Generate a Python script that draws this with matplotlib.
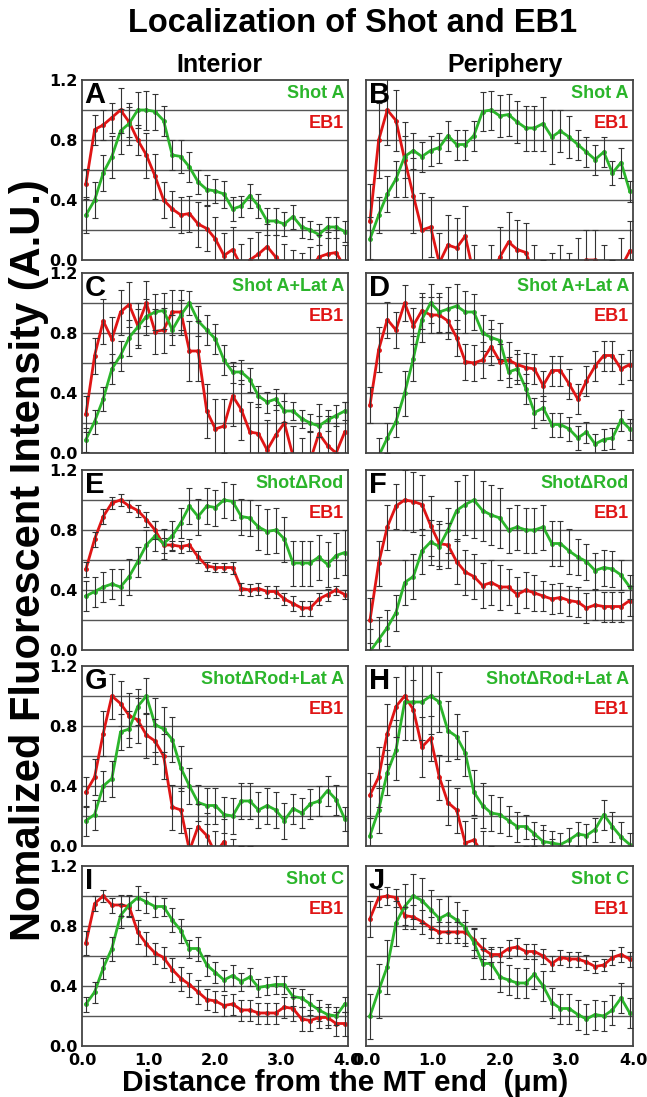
import numpy as np
from matplotlib import pyplot as plt

# distance from MT end (um), 31 samples
dist = np.round(0.06 + 0.1297 * np.arange(31), 3)

letters = ['A', 'B', 'C', 'D', 'E', 'F', 'G', 'H', 'I', 'J']
shot_names = ['Shot A', 'Shot A', 'Shot A+Lat A', 'Shot A+Lat A', 'Shot\u0394Rod', 'Shot\u0394Rod',
              'Shot\u0394Rod+Lat A', 'Shot\u0394Rod+Lat A', 'Shot C', 'Shot C']

shot_A = [0.30, 0.40, 0.58, 0.69, 0.86, 0.91, 1.00, 1.00, 0.99, 0.93, 0.70, 0.69, 0.62, 0.52, 0.47, 0.46,
          0.44, 0.34, 0.36, 0.43, 0.36, 0.26, 0.26, 0.24, 0.29, 0.22, 0.20, 0.17, 0.22, 0.22, 0.19]
shot_A_err = [0.12, 0.12, 0.12, 0.14, 0.15, 0.14, 0.12, 0.13, 0.12, 0.10, 0.10, 0.11, 0.10, 0.08, 0.10, 0.08,
              0.09, 0.08, 0.07, 0.08, 0.08, 0.09, 0.09, 0.08, 0.08, 0.07, 0.06, 0.07, 0.07, 0.07, 0.07]
eb1_A = [0.51, 0.87, 0.90, 0.95, 1.00, 0.92, 0.80, 0.70, 0.56, 0.40, 0.34, 0.30, 0.31, 0.24, 0.21, 0.14,
         0.03, 0.07, -0.04, 0.00, 0.04, 0.09, 0.02, -0.04, -0.08, -0.10, -0.06, 0.02, 0.04, 0.05, -0.05]
eb1_A_err = [0.10, 0.10, 0.10, 0.10, 0.15, 0.10, 0.10, 0.15, 0.15, 0.12, 0.12, 0.12, 0.12, 0.15, 0.15, 0.15,
             0.15, 0.15, 0.15, 0.15, 0.15, 0.15, 0.15, 0.15, 0.15, 0.15, 0.15, 0.15, 0.15, 0.15, 0.15]

shot_B = [0.14, 0.30, 0.44, 0.54, 0.69, 0.73, 0.69, 0.73, 0.75, 0.83, 0.77, 0.77, 0.83, 0.99, 1.00, 0.96,
          0.97, 0.92, 0.88, 0.88, 0.91, 0.82, 0.86, 0.82, 0.77, 0.72, 0.67, 0.72, 0.58, 0.65, 0.46]
shot_B_err = [0.15, 0.12, 0.12, 0.12, 0.14, 0.12, 0.10, 0.10, 0.10, 0.10, 0.10, 0.10, 0.10, 0.13, 0.13, 0.14,
              0.14, 0.14, 0.15, 0.15, 0.18, 0.18, 0.14, 0.14, 0.10, 0.10, 0.10, 0.10, 0.08, 0.10, 0.07]
eb1_B = [0.26, 0.80, 1.00, 0.93, 0.67, 0.43, 0.20, 0.22, -0.02, 0.10, 0.08, 0.16, -0.10, -0.25, -0.10, 0.02,
         0.12, 0.07, 0.05, -0.10, -0.20, -0.15, -0.10, -0.15, -0.05, 0.00, 0.00, -0.10, -0.20, -0.05, 0.06]
eb1_B_err = [0.25, 0.25, 0.23, 0.20, 0.25, 0.25, 0.25, 0.20, 0.20, 0.20, 0.20, 0.20, 0.20, 0.20, 0.20, 0.20,
             0.20, 0.20, 0.20, 0.20, 0.20, 0.20, 0.20, 0.20, 0.20, 0.20, 0.20, 0.20, 0.20, 0.20, 0.20]

shot_C_lat = [0.09, 0.21, 0.36, 0.56, 0.65, 0.77, 0.84, 0.91, 0.94, 0.95, 0.82, 0.92, 1.00, 0.88, 0.82, 0.76,
              0.62, 0.54, 0.54, 0.49, 0.38, 0.34, 0.36, 0.28, 0.28, 0.23, 0.20, 0.18, 0.22, 0.25, 0.28]
shot_C_lat_err = [0.08, 0.08, 0.08, 0.10, 0.10, 0.12, 0.12, 0.12, 0.12, 0.12, 0.10, 0.10, 0.08, 0.10, 0.10, 0.10,
                  0.10, 0.07, 0.08, 0.08, 0.07, 0.07, 0.07, 0.07, 0.06, 0.06, 0.06, 0.07, 0.07, 0.07, 0.06]
eb1_C = [0.26, 0.65, 0.88, 0.76, 0.94, 0.99, 0.85, 1.00, 0.81, 0.82, 0.94, 0.94, 0.68, 0.68, 0.28, 0.16,
         0.18, 0.38, 0.29, 0.14, 0.13, 0.02, 0.12, 0.20, -0.02, -0.10, -0.05, 0.13, 0.05, 0.00, 0.14]
eb1_C_err = [0.12, 0.12, 0.15, 0.15, 0.15, 0.15, 0.15, 0.15, 0.15, 0.15, 0.15, 0.15, 0.20, 0.20, 0.18, 0.20,
             0.18, 0.20, 0.20, 0.20, 0.20, 0.20, 0.20, 0.20, 0.20, 0.20, 0.20, 0.20, 0.20, 0.20, 0.20]

shot_D_lat = [-0.20, -0.02, 0.10, 0.21, 0.40, 0.63, 0.89, 1.00, 0.94, 0.96, 0.98, 0.94, 0.94, 0.80, 0.77, 0.75,
              0.54, 0.56, 0.43, 0.27, 0.30, 0.19, 0.19, 0.16, 0.10, 0.14, 0.06, 0.09, 0.10, 0.22, 0.16]
shot_D_lat_err = [0.15, 0.12, 0.10, 0.10, 0.15, 0.15, 0.15, 0.13, 0.13, 0.15, 0.15, 0.14, 0.12, 0.12, 0.12, 0.12,
                  0.10, 0.10, 0.10, 0.10, 0.08, 0.08, 0.08, 0.08, 0.08, 0.07, 0.07, 0.07, 0.07, 0.07, 0.07]
eb1_D = [0.32, 0.69, 0.89, 0.82, 1.00, 0.85, 0.95, 0.92, 0.92, 0.88, 0.77, 0.61, 0.60, 0.62, 0.71, 0.61,
         0.62, 0.59, 0.57, 0.56, 0.45, 0.55, 0.55, 0.46, 0.36, 0.48, 0.58, 0.65, 0.65, 0.56, 0.59]
eb1_D_err = [0.12, 0.15, 0.12, 0.12, 0.12, 0.12, 0.12, 0.12, 0.12, 0.12, 0.12, 0.12, 0.12, 0.12, 0.12, 0.12,
             0.12, 0.10, 0.10, 0.10, 0.10, 0.10, 0.10, 0.10, 0.10, 0.10, 0.10, 0.10, 0.10, 0.10, 0.10]

shot_E = [0.36, 0.39, 0.42, 0.44, 0.42, 0.49, 0.59, 0.70, 0.76, 0.71, 0.76, 0.85, 0.96, 0.89, 0.96, 0.95,
          1.00, 0.99, 0.89, 0.88, 0.82, 0.79, 0.80, 0.74, 0.58, 0.58, 0.58, 0.62, 0.57, 0.63, 0.65]
shot_E_err = [0.10, 0.10, 0.10, 0.10, 0.12, 0.12, 0.10, 0.10, 0.10, 0.10, 0.10, 0.10, 0.12, 0.12, 0.12, 0.12,
              0.12, 0.12, 0.12, 0.12, 0.15, 0.15, 0.15, 0.15, 0.15, 0.15, 0.15, 0.15, 0.15, 0.15, 0.15]
eb1_E = [0.54, 0.74, 0.89, 0.98, 1.00, 0.96, 0.93, 0.87, 0.80, 0.70, 0.70, 0.69, 0.70, 0.62, 0.56, 0.55,
         0.55, 0.55, 0.41, 0.40, 0.41, 0.39, 0.39, 0.34, 0.31, 0.28, 0.28, 0.34, 0.37, 0.40, 0.37]
eb1_E_err = [0.05, 0.05, 0.05, 0.04, 0.04, 0.04, 0.04, 0.05, 0.06, 0.05, 0.03, 0.04, 0.04, 0.04, 0.03, 0.03,
             0.03, 0.04, 0.04, 0.04, 0.04, 0.04, 0.04, 0.04, 0.05, 0.05, 0.05, 0.04, 0.04, 0.03, 0.03]

shot_F = [-0.01, 0.07, 0.15, 0.25, 0.45, 0.49, 0.66, 0.72, 0.69, 0.80, 0.93, 0.97, 1.00, 0.93, 0.90, 0.88,
          0.80, 0.82, 0.80, 0.80, 0.82, 0.71, 0.71, 0.66, 0.62, 0.59, 0.53, 0.55, 0.54, 0.50, 0.42]
shot_F_err = [0.15, 0.15, 0.12, 0.12, 0.15, 0.15, 0.15, 0.15, 0.15, 0.15, 0.20, 0.20, 0.25, 0.20, 0.20, 0.20,
              0.15, 0.15, 0.15, 0.15, 0.15, 0.15, 0.15, 0.15, 0.12, 0.12, 0.12, 0.12, 0.12, 0.10, 0.08]
eb1_F = [0.20, 0.58, 0.82, 0.96, 1.00, 0.99, 0.97, 0.83, 0.71, 0.70, 0.59, 0.52, 0.49, 0.43, 0.45, 0.42,
         0.42, 0.37, 0.40, 0.38, 0.36, 0.34, 0.35, 0.33, 0.32, 0.28, 0.30, 0.29, 0.29, 0.29, 0.33]
eb1_F_err = [0.15, 0.15, 0.15, 0.15, 0.20, 0.20, 0.20, 0.20, 0.15, 0.15, 0.15, 0.15, 0.15, 0.15, 0.15, 0.15,
             0.12, 0.12, 0.12, 0.12, 0.10, 0.10, 0.10, 0.10, 0.10, 0.10, 0.10, 0.10, 0.10, 0.10, 0.10]

shot_G_lat = [0.17, 0.21, 0.40, 0.45, 0.76, 0.78, 0.93, 1.00, 0.81, 0.78, 0.71, 0.52, 0.40, 0.29, 0.27, 0.27,
              0.21, 0.20, 0.30, 0.30, 0.24, 0.27, 0.24, 0.17, 0.25, 0.22, 0.28, 0.30, 0.37, 0.31, 0.18]
shot_G_lat_err = [0.10, 0.10, 0.10, 0.12, 0.12, 0.12, 0.12, 0.12, 0.18, 0.15, 0.15, 0.15, 0.12, 0.12, 0.12, 0.12,
                  0.12, 0.12, 0.12, 0.12, 0.12, 0.12, 0.12, 0.12, 0.10, 0.10, 0.10, 0.10, 0.10, 0.10, 0.08]
eb1_G = [0.36, 0.46, 0.75, 1.00, 0.95, 0.87, 0.84, 0.74, 0.70, 0.60, 0.26, 0.24, -0.03, 0.13, 0.07, -0.05,
         0.03, -0.10, -0.15, -0.15, -0.20, -0.20, -0.20, -0.25, -0.25, -0.25, -0.25, -0.25, -0.25, -0.25, -0.25]
eb1_G_err = [0.10, 0.12, 0.15, 0.15, 0.15, 0.15, 0.15, 0.15, 0.15, 0.15, 0.15, 0.15, 0.15, 0.15, 0.15, 0.15,
             0.15, 0.15, 0.15, 0.15, 0.15, 0.15, 0.15, 0.15, 0.15, 0.15, 0.15, 0.15, 0.15, 0.15, 0.15]

shot_H_lat = [0.07, 0.24, 0.49, 0.64, 0.96, 0.96, 0.96, 1.00, 0.96, 0.77, 0.73, 0.62, 0.36, 0.27, 0.22, 0.21,
              0.17, 0.13, 0.13, 0.08, 0.03, 0.02, 0.01, 0.04, 0.08, 0.07, 0.11, 0.21, 0.13, 0.06, 0.01]
shot_H_lat_err = [0.12, 0.15, 0.15, 0.20, 0.25, 0.25, 0.25, 0.25, 0.20, 0.20, 0.15, 0.15, 0.15, 0.15, 0.12, 0.12,
                  0.10, 0.10, 0.08, 0.08, 0.08, 0.08, 0.08, 0.08, 0.08, 0.08, 0.08, 0.10, 0.10, 0.10, 0.08]
eb1_H = [0.34, 0.46, 0.75, 0.93, 1.00, 0.91, 0.66, 0.72, 0.46, 0.29, 0.24, 0.02, 0.04, -0.05, -0.15, -0.20,
         -0.20, -0.20, -0.15, -0.10, -0.01, -0.10, -0.20, -0.20, -0.20, -0.20, -0.20, -0.20, -0.20, -0.20, -0.20]
eb1_H_err = [0.15, 0.20, 0.20, 0.20, 0.20, 0.20, 0.20, 0.15, 0.15, 0.15, 0.15, 0.15, 0.15, 0.15, 0.15, 0.15,
             0.15, 0.15, 0.15, 0.15, 0.15, 0.15, 0.15, 0.15, 0.15, 0.15, 0.15, 0.15, 0.15, 0.15, 0.15]

shot_I = [0.28, 0.36, 0.52, 0.65, 0.87, 0.94, 0.99, 0.96, 0.93, 0.93, 0.84, 0.77, 0.65, 0.65, 0.54, 0.49,
          0.44, 0.47, 0.43, 0.46, 0.39, 0.40, 0.41, 0.41, 0.33, 0.32, 0.28, 0.24, 0.21, 0.20, 0.28]
shot_I_err = [0.05, 0.07, 0.07, 0.08, 0.08, 0.07, 0.08, 0.07, 0.07, 0.06, 0.08, 0.08, 0.06, 0.08, 0.07, 0.07,
              0.07, 0.07, 0.06, 0.06, 0.06, 0.06, 0.06, 0.06, 0.06, 0.06, 0.07, 0.07, 0.07, 0.06, 0.05]
eb1_I = [0.69, 0.95, 1.00, 0.94, 0.94, 0.93, 0.76, 0.68, 0.62, 0.59, 0.51, 0.45, 0.41, 0.36, 0.31, 0.30,
         0.27, 0.28, 0.24, 0.24, 0.22, 0.22, 0.22, 0.26, 0.25, 0.18, 0.17, 0.19, 0.19, 0.15, 0.15]
eb1_I_err = [0.08, 0.05, 0.04, 0.05, 0.07, 0.07, 0.08, 0.08, 0.07, 0.07, 0.08, 0.08, 0.08, 0.08, 0.07, 0.07,
             0.07, 0.07, 0.07, 0.07, 0.07, 0.07, 0.07, 0.07, 0.08, 0.08, 0.07, 0.07, 0.07, 0.08, 0.08]

shot_J = [0.20, 0.37, 0.53, 0.82, 0.93, 1.00, 0.97, 0.91, 0.85, 0.88, 0.84, 0.79, 0.69, 0.55, 0.55, 0.46,
          0.44, 0.42, 0.42, 0.48, 0.40, 0.29, 0.25, 0.25, 0.21, 0.18, 0.21, 0.20, 0.24, 0.32, 0.22]
shot_J_err = [0.15, 0.18, 0.18, 0.15, 0.15, 0.15, 0.15, 0.13, 0.13, 0.12, 0.12, 0.12, 0.10, 0.10, 0.10, 0.10,
              0.10, 0.10, 0.10, 0.10, 0.10, 0.10, 0.10, 0.10, 0.10, 0.10, 0.10, 0.10, 0.10, 0.10, 0.10]
eb1_J = [0.85, 0.99, 1.00, 0.99, 0.87, 0.86, 0.83, 0.79, 0.76, 0.76, 0.76, 0.76, 0.71, 0.65, 0.61, 0.61,
         0.65, 0.66, 0.63, 0.63, 0.60, 0.55, 0.59, 0.58, 0.58, 0.56, 0.53, 0.54, 0.59, 0.61, 0.58]
eb1_J_err = [0.12, 0.06, 0.06, 0.06, 0.06, 0.08, 0.08, 0.07, 0.07, 0.07, 0.07, 0.07, 0.07, 0.07, 0.05, 0.05,
             0.06, 0.06, 0.05, 0.05, 0.05, 0.05, 0.05, 0.05, 0.05, 0.05, 0.04, 0.04, 0.05, 0.05, 0.05]

shot_series = [(shot_A, shot_A_err), (shot_B, shot_B_err), (shot_C_lat, shot_C_lat_err),
               (shot_D_lat, shot_D_lat_err), (shot_E, shot_E_err), (shot_F, shot_F_err),
               (shot_G_lat, shot_G_lat_err), (shot_H_lat, shot_H_lat_err), (shot_I, shot_I_err),
               (shot_J, shot_J_err)]
eb1_series = [(eb1_A, eb1_A_err), (eb1_B, eb1_B_err), (eb1_C, eb1_C_err), (eb1_D, eb1_D_err),
              (eb1_E, eb1_E_err), (eb1_F, eb1_F_err), (eb1_G, eb1_G_err), (eb1_H, eb1_H_err),
              (eb1_I, eb1_I_err), (eb1_J, eb1_J_err)]

GREEN = '#2bb52b'
RED = '#e01515'


def main():
    plt.rcParams['font.family'] = ['Liberation Sans', 'DejaVu Sans']
    W, H = 647, 1097
    fig = plt.figure(figsize=(W / 100, H / 100), dpi=100)

    col_x = [82, 366]
    col_w = [266, 267]
    row_top = [80, 273, 470, 666, 866]
    row_h = 180

    for k in range(10):
        r, c = k // 2, k % 2
        ax = fig.add_axes([col_x[c] / W, 1 - (row_top[r] + row_h) / H, col_w[c] / W, row_h / H])
        ax.set_xlim(0, 4.0)
        ax.set_ylim(0, 1.2)

        for yv in [0.2, 0.4, 0.6, 0.8, 1.0]:
            ax.axhline(yv, color='#555555', lw=1.0, zorder=1)

        for (vals, err), col in [(eb1_series[k], RED), (shot_series[k], GREEN)]:
            ax.errorbar(dist, vals, yerr=err, fmt='none', ecolor='#333333', elinewidth=0.8,
                        capsize=2, capthick=0.8, zorder=3)
            ax.plot(dist, vals, color=col, lw=2.0, marker='o', ms=2.5, zorder=2.5)

        for s in ax.spines.values():
            s.set_color('#444444')
            s.set_linewidth(1.3)

        ax.set_yticks([0.0, 0.4, 0.8, 1.2])
        ax.set_xticks([0.0, 1.0, 2.0, 3.0, 4.0])
        ax.tick_params(axis='y', length=0, pad=3)
        ax.tick_params(axis='x', length=0, pad=5)
        tick_font = dict(family='DejaVu Sans', fontweight='bold', fontsize=11.5)
        if c == 0:
            ax.set_yticklabels(['0.0', '0.4', '0.8', '1.2'], **tick_font)
        else:
            ax.set_yticklabels([])
        if r == 4:
            ax.set_xticklabels(['0.0', '1.0', '2.0', '3.0', '4.0'], **tick_font)
        else:
            ax.set_xticklabels([])

        ax.text(0.01, 0.915, letters[k], transform=ax.transAxes, fontsize=21, fontweight='bold',
                ha='left', va='center', zorder=5)
        ax.text(0.985, 0.925, shot_names[k], transform=ax.transAxes, fontsize=13, fontweight='bold',
                color=GREEN, ha='right', va='center', zorder=5)
        ax.text(0.985, 0.76, 'EB1', transform=ax.transAxes, fontsize=13, fontweight='bold',
                color=RED, ha='right', va='center', zorder=5)

    fig.text(353 / W, 1 - 24 / H, 'Localization of Shot and EB1', fontsize=23.5, fontweight='bold',
             ha='center', va='center')
    fig.text(219 / W, 1 - 72 / H, 'Interior', fontsize=18, fontweight='bold', ha='center', va='baseline')
    fig.text(505 / W, 1 - 72 / H, 'Periphery', fontsize=18, fontweight='bold', ha='center', va='baseline')
    fig.text(29 / W, 1 - 560 / H, 'Nomalized Fluorescent Intensity (A.U.)', fontsize=30, fontweight='bold',
             rotation=90, ha='center', va='center')
    fig.text(345 / W, 1 - 1091 / H, 'Distance from the MT end  (\u03bcm)', fontsize=21.5, fontweight='bold',
             ha='center', va='baseline')

    fig.savefig('out.png', dpi=100)


if __name__ == '__main__':
    main()
